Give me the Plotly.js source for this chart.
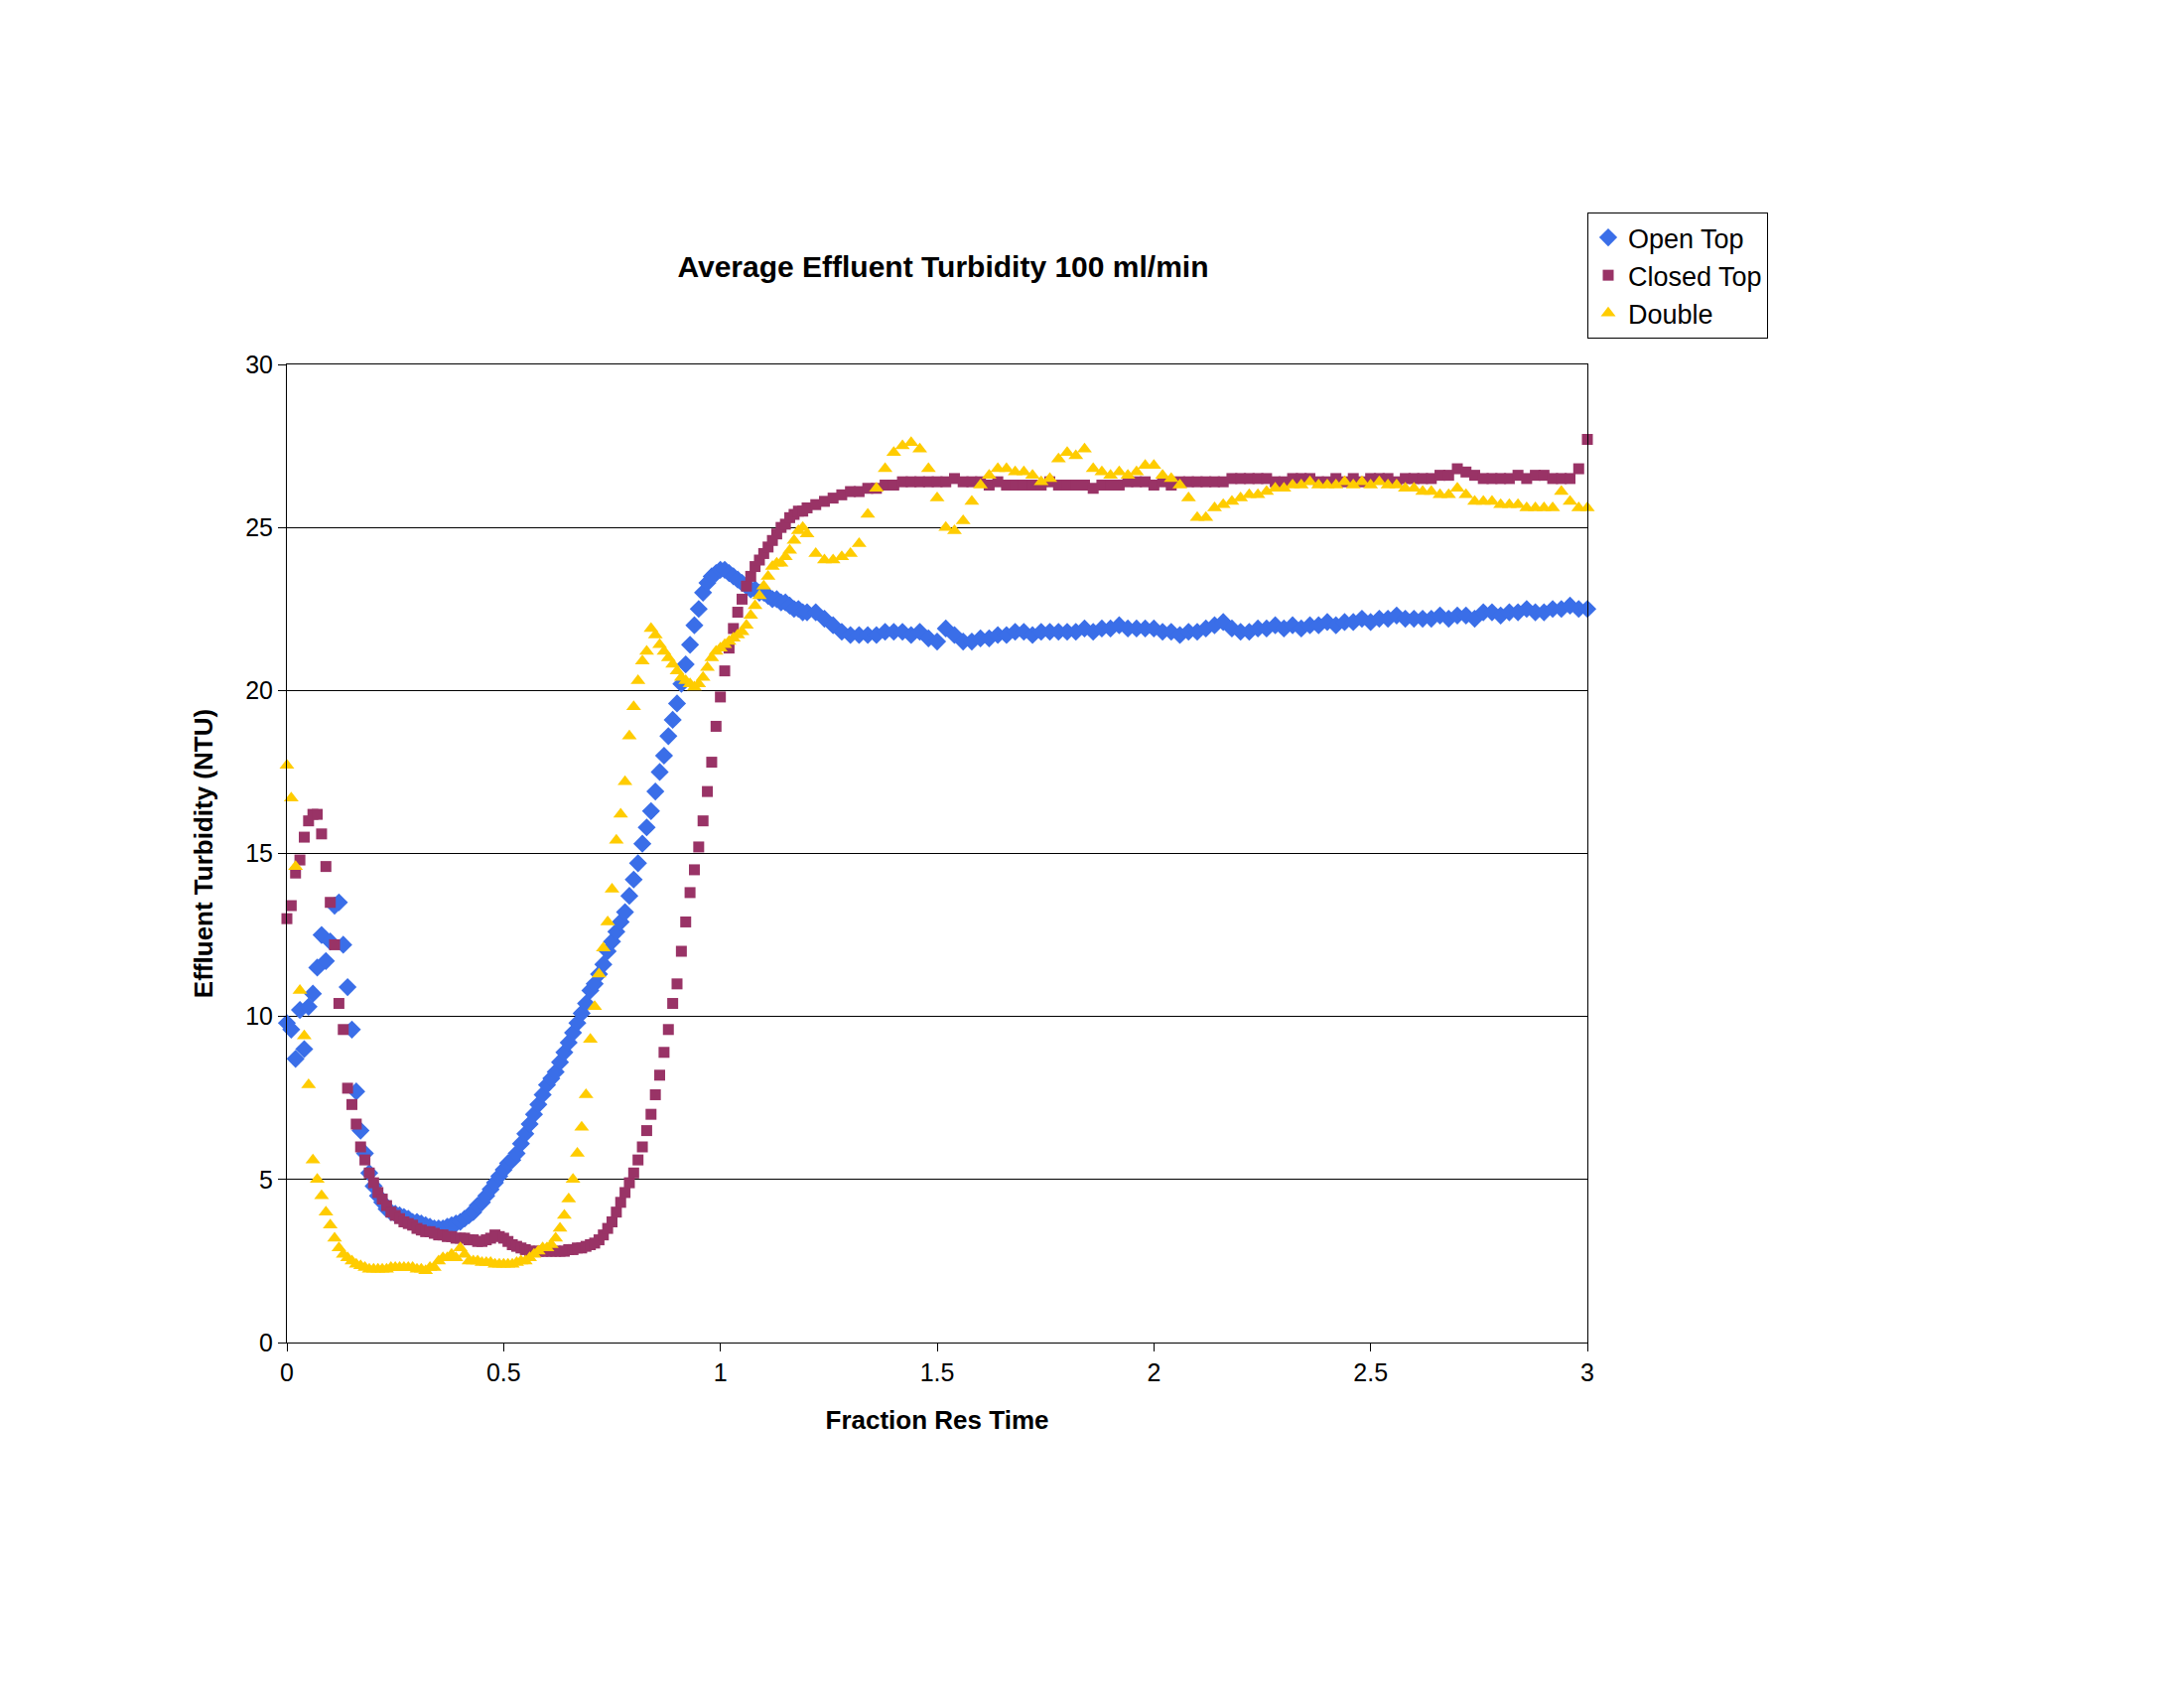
<!DOCTYPE html>
<html>
<head>
<meta charset="utf-8">
<script src="https://cdn.plot.ly/plotly-3.0.1.min.js"></script>
<style>body{margin:0;background:#fff}#chart{width:2200px;height:1712px}</style>
</head>
<body>
<div id="chart"></div>
<script>
"use strict"

// sample times: every 0.01 up to 1.2, then every 0.02 to 3
const fineTimes = [];
for (let i = 0; i <= 120; i++) fineTimes.push(+(i * 0.01).toFixed(2));
const coarseTimes = [];
for (let i = 61; i <= 150; i++) coarseTimes.push(+(i * 0.02).toFixed(2));
const resTime = fineTimes.concat(coarseTimes);

const openTop = [
    9.8,9.6,8.7,10.2,9.0,10.3,10.7,11.5,12.5,11.7,
    12.3,13.4,13.5,12.2,10.9,9.6,7.7,6.5,5.8,5.2,
    4.8,4.5,4.3,4.1,4.0,3.95,3.9,3.85,3.8,3.7,
    3.7,3.65,3.6,3.55,3.5,3.5,3.5,3.55,3.6,3.65,
    3.7,3.8,3.9,4.0,4.2,4.3,4.5,4.7,4.9,5.1,
    5.3,5.5,5.6,5.8,6.1,6.4,6.7,7.0,7.3,7.6,
    7.9,8.1,8.3,8.6,8.9,9.2,9.5,9.8,10.1,10.4,
    10.8,11.0,11.3,11.6,12.0,12.3,12.6,12.9,13.2,13.7,
    14.2,14.7,15.3,15.8,16.3,16.9,17.5,18.0,18.6,19.1,
    19.6,20.2,20.8,21.4,22.0,22.5,23.0,23.3,23.5,23.6,
    23.7,23.7,23.6,23.5,23.4,23.3,23.2,23.1,23.1,23.0,
    23.0,22.9,22.8,22.8,22.7,22.7,22.6,22.5,22.5,22.4,
    22.4,
    22.4,22.2,22.0,21.8,21.7,21.7,21.7,21.7,21.8,21.8,
    21.8,21.7,21.8,21.6,21.5,21.9,21.7,21.5,21.5,21.6,
    21.6,21.7,21.7,21.8,21.8,21.7,21.8,21.8,21.8,21.8,
    21.8,21.9,21.8,21.9,21.9,22.0,21.9,21.9,21.9,21.9,
    21.8,21.8,21.7,21.8,21.8,21.9,22.0,22.1,21.9,21.8,
    21.8,21.9,21.9,22.0,21.9,22.0,21.9,22.0,22.0,22.1,
    22.0,22.1,22.1,22.2,22.1,22.2,22.2,22.3,22.2,22.2,
    22.2,22.2,22.3,22.2,22.3,22.3,22.2,22.4,22.4,22.3,
    22.4,22.4,22.5,22.4,22.4,22.5,22.5,22.6,22.5,22.5
];

const closedTop = [
    13.0,13.4,14.4,14.8,15.5,16.0,16.2,16.2,15.6,14.6,
    13.5,12.2,10.4,9.6,7.8,7.3,6.7,6.0,5.6,5.2,
    4.9,4.6,4.4,4.2,4.0,3.9,3.8,3.7,3.65,3.6,
    3.5,3.45,3.4,3.4,3.35,3.3,3.3,3.25,3.25,3.2,
    3.2,3.2,3.15,3.15,3.1,3.1,3.15,3.2,3.3,3.25,
    3.2,3.1,3.0,2.95,2.9,2.85,2.8,2.8,2.8,2.8,
    2.8,2.8,2.8,2.8,2.8,2.85,2.85,2.9,2.9,2.95,
    3.0,3.05,3.15,3.3,3.5,3.7,4.0,4.3,4.6,4.9,
    5.2,5.6,6.0,6.5,7.0,7.6,8.2,8.9,9.6,10.4,
    11.0,12.0,12.9,13.8,14.5,15.2,16.0,16.9,17.8,18.9,
    19.8,20.6,21.3,21.9,22.4,22.8,23.2,23.5,23.8,24.0,
    24.2,24.4,24.6,24.8,25.0,25.1,25.3,25.4,25.5,25.5,
    25.6,
    25.7,25.8,25.9,26.0,26.1,26.1,26.2,26.2,26.3,26.3,
    26.4,26.4,26.4,26.4,26.4,26.4,26.5,26.4,26.4,26.4,
    26.3,26.4,26.3,26.3,26.3,26.3,26.3,26.4,26.3,26.3,
    26.3,26.3,26.2,26.3,26.3,26.3,26.4,26.4,26.4,26.3,
    26.4,26.3,26.4,26.4,26.4,26.4,26.4,26.4,26.5,26.5,
    26.5,26.5,26.5,26.4,26.4,26.5,26.5,26.5,26.4,26.4,
    26.5,26.4,26.5,26.4,26.5,26.5,26.5,26.4,26.5,26.5,
    26.5,26.5,26.6,26.6,26.8,26.7,26.6,26.5,26.5,26.5,
    26.5,26.6,26.5,26.6,26.6,26.5,26.5,26.5,26.8,27.7
];

const double = [
    17.7,16.7,14.6,10.8,9.4,7.9,5.6,5.0,4.5,4.0,
    3.6,3.2,2.9,2.7,2.6,2.5,2.4,2.35,2.3,2.25,
    2.25,2.25,2.25,2.25,2.3,2.3,2.3,2.3,2.3,2.3,
    2.25,2.25,2.2,2.3,2.3,2.5,2.6,2.6,2.7,2.6,
    2.9,2.7,2.5,2.5,2.5,2.45,2.45,2.45,2.4,2.4,
    2.4,2.4,2.4,2.45,2.5,2.5,2.6,2.7,2.8,2.9,
    2.9,3.0,3.2,3.5,3.9,4.4,5.0,5.8,6.6,7.6,
    9.3,10.3,11.3,12.1,12.9,13.9,15.4,16.2,17.2,18.6,
    19.5,20.3,20.9,21.2,21.9,21.7,21.4,21.2,21.0,20.8,
    20.6,20.4,20.3,20.2,20.1,20.2,20.4,20.7,21.0,21.2,
    21.3,21.4,21.5,21.6,21.7,21.8,22.0,22.3,22.6,22.9,
    23.2,23.5,23.8,23.9,23.9,24.1,24.3,24.6,24.9,25.0,
    24.8,
    24.2,24.0,24.0,24.1,24.2,24.5,25.4,26.2,26.8,27.3,
    27.5,27.6,27.4,26.8,25.9,25.0,24.9,25.2,25.8,26.3,
    26.6,26.8,26.8,26.7,26.7,26.6,26.4,26.5,27.1,27.3,
    27.2,27.4,26.8,26.7,26.6,26.7,26.6,26.7,26.9,26.9,
    26.6,26.5,26.3,25.9,25.3,25.3,25.6,25.7,25.8,25.9,
    26.0,26.0,26.1,26.2,26.2,26.3,26.3,26.4,26.3,26.3,
    26.3,26.4,26.3,26.4,26.3,26.4,26.3,26.3,26.2,26.2,
    26.1,26.1,26.0,26.0,26.2,26.0,25.8,25.8,25.8,25.7,
    25.7,25.7,25.6,25.6,25.6,25.6,26.1,25.8,25.6,25.6
];

const font = 'Liberation Sans, Arial, sans-serif';

function series(name, y, symbol, color, size) {
    return {
        x: resTime, y: y, name: name,
        type: 'scatter', mode: 'markers', cliponaxis: false,
        marker: {symbol: symbol, color: color, size: size, line: {width: 0}}
    };
}

const data = [
    series('Open Top', openTop, 'diamond', '#3A6EE8', 14),
    series('Closed Top', closedTop, 'square', '#993366', 11),
    series('Double', double, 'triangle-up', '#FFCC00', 13)
];

const layout = {
    width: 2200, height: 1712,
    paper_bgcolor: '#fff', plot_bgcolor: '#fff',
    font: {family: font, size: 25, color: '#000'},
    margin: {l: 289, r: 229, t: 367, b: 360},
    title: {text: '<b>Average Effluent Turbidity 100 ml/min</b>', font: {size: 30},
            x: 1110 / 2200, xanchor: 'center', xref: 'paper', y: 1 - 268 / 1712, yanchor: 'middle'},
    showlegend: true,
    legend: {x: 1599 / 2200, y: 1 - 214 / 1712, xref: 'container', yref: 'container',
             xanchor: 'left', yanchor: 'top', bordercolor: '#000', borderwidth: 1,
             font: {size: 27}, itemwidth: 30, tracegroupgap: 0},
    xaxis: {
        range: [0, 3], dtick: 0.5, showgrid: false, zeroline: false,
        showline: true, linecolor: '#000', linewidth: 1, mirror: true,
        ticks: 'outside', ticklen: 8, tickcolor: '#000',
        title: {text: '<b>Fraction Res Time</b>', font: {size: 26}, standoff: 25}
    },
    yaxis: {
        range: [0, 30], dtick: 5, showgrid: true, gridcolor: '#000', gridwidth: 1,
        zeroline: false, showline: true, linecolor: '#000', linewidth: 1, mirror: true,
        ticks: 'outside', ticklen: 8, tickcolor: '#000',
        title: {text: '<b>Effluent Turbidity (NTU)</b>', font: {size: 26}, standoff: 25}
    }
};

Plotly.newPlot('chart', data, layout, {staticPlot: true});
</script>
</body>
</html>
